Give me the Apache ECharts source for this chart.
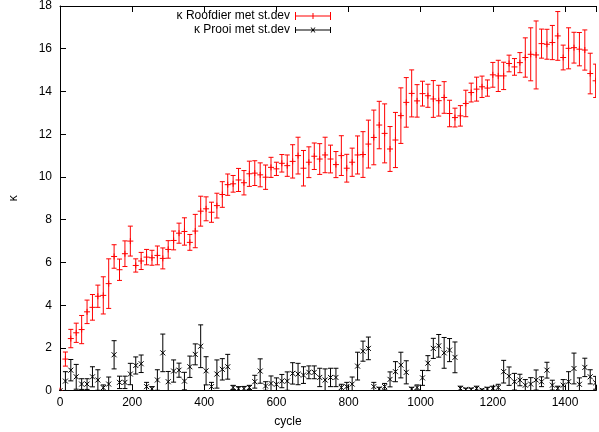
<!DOCTYPE html>
<html>
<head>
<meta charset="utf-8">
<script src="https://cdn.jsdelivr.net/npm/echarts@6/dist/echarts.min.js"></script>
<style>
  html, body { margin: 0; padding: 0; background: #fff; }
  #main { width: 599px; height: 432px; }
</style>
</head>
<body>
<div id="main"></div>
<script>
// cycles (x)
var cycles = [0, 15, 30, 45, 60, 75, 90, 105, 120, 135, 150, 165, 180, 195, 210, 225, 240, 255, 270, 285,
  300, 315, 330, 345, 360, 375, 390, 405, 420, 435, 450, 465, 480, 495, 510, 525, 540, 555, 570, 585,
  600, 615, 630, 645, 660, 675, 690, 705, 720, 735, 750, 765, 780, 795, 810, 825, 840, 855, 870, 885,
  900, 915, 930, 945, 960, 975, 990, 1005, 1020, 1035, 1050, 1065, 1080, 1095, 1110, 1125, 1140, 1155, 1170, 1185,
  1200, 1215, 1230, 1245, 1260, 1275, 1290, 1305, 1320, 1335, 1350, 1365, 1380, 1395, 1410, 1425, 1440, 1455, 1470, 1485];

// kappa roofdier (predator) + st.dev
var roofdier = [0, 1.48, 2.44, 2.71, 2.86, 3.69, 3.9, 4.42, 4.46, 5.01, 6.28, 5.66, 6.41, 7.0, 5.86, 6.07, 6.25, 6.22, 6.33, 6.19,
  6.61, 7.03, 7.37, 7.45, 6.94, 7.47, 8.4, 8.51, 8.35, 8.66, 9.18, 9.64, 9.68, 9.86, 9.73, 10.15, 10.18, 10.1, 9.99, 10.45,
  10.38, 10.64, 10.53, 10.73, 11.0, 10.41, 10.69, 10.97, 10.84, 11.03, 10.84, 10.58, 11.0, 10.41, 10.69, 11.03, 11.05, 11.54, 11.85, 12.43,
  12.04, 11.31, 11.73, 12.87, 13.49, 13.91, 13.56, 13.9, 13.8, 13.65, 13.57, 13.72, 12.97, 12.78, 12.86, 13.44, 13.95, 14.11, 14.22, 14.16,
  14.78, 14.73, 14.73, 15.31, 15.15, 15.35, 15.59, 15.74, 15.71, 16.24, 16.21, 16.29, 16.6, 15.59, 16.02, 16.05, 15.98, 15.94, 14.84, 14.5];
var roofdierDev = [0, 0.33, 0.43, 0.45, 0.66, 0.55, 0.6, 0.52, 0.87, 1.16, 0.55, 0.5, 0.6, 0.7, 0.31, 0.4, 0.36, 0.35, 0.44, 0.49,
  0.41, 0.44, 0.47, 0.64, 0.37, 0.78, 0.7, 0.56, 0.47, 0.58, 0.6, 0.5, 0.39, 0.54, 0.57, 0.59, 0.58, 0.56, 0.57, 0.47,
  0.31, 0.41, 0.5, 0.78, 0.86, 0.83, 0.72, 0.62, 0.72, 0.83, 0.65, 0.61, 0.93, 0.65, 0.66, 0.89, 1.07, 1.12, 1.28, 1.11,
  1.38, 1.05, 1.29, 1.3, 1.16, 1.1, 0.76, 0.58, 0.54, 0.86, 0.72, 0.74, 0.62, 0.44, 0.48, 0.62, 0.44, 0.56, 0.5, 0.38,
  0.58, 0.73, 0.64, 0.39, 0.39, 0.47, 0.92, 1.24, 1.59, 0.68, 0.7, 0.8, 1.14, 0.58, 0.96, 0.72, 0.78, 0.94, 0.95, 0.78];

// kappa prooi (prey) + st.dev
var prooi = [0, 0.45, 0.96, 0.65, 0.31, 0.31, 0.65, 0.5, 0.14, 0.31, 1.68, 0.39, 0.39, 0.78, 1.18, 1.26, 0.19, 0.09, 0.5, 1.77,
  0.42, 0.92, 0.96, 0.45, 1.12, 1.7, 2.08, 0.93, 0.19, 0.78, 1.0, 1.12, 0.15, 0.09, 0.1, 0.15, 0.42, 0.92, 0.22, 0.34,
  0.3, 0.45, 0.45, 0.81, 0.78, 0.73, 0.86, 0.86, 0.62, 0.5, 0.62, 0.62, 0.15, 0.19, 0.31, 1.15, 1.85, 1.98, 0.19, 0.08,
  0.19, 0.53, 0.89, 1.2, 0.86, 0.08, 0.15, 0.6, 1.29, 1.98, 2.1, 1.77, 1.9, 1.56, 0.11, 0.06, 0.06, 0.11, 0.03, 0.08,
  0.11, 0.15, 0.89, 0.68, 0.42, 0.5, 0.26, 0.31, 0.5, 0.42, 0.96, 0.26, 0.11, 0.26, 0.42, 1.04, 0.3, 1.09, 0.65, 0.37];
var prooiDev = [0, 0.44, 0.5, 0.58, 0.25, 0.25, 0.47, 0.48, 0.13, 0.33, 0.66, 0.29, 0.29, 0.5, 0.4, 0.41, 0.2, 0.1, 0.48, 0.88,
  0.48, 0.52, 0.33, 0.41, 0.5, 0.49, 1.0, 0.66, 0.2, 0.66, 0.5, 0.58, 0.1, 0.1, 0.1, 0.1, 0.3, 0.57, 0.2, 0.35,
  0.3, 0.31, 0.43, 0.5, 0.5, 0.39, 0.3, 0.3, 0.43, 0.52, 0.43, 0.43, 0.15, 0.2, 0.33, 0.65, 0.47, 0.53, 0.2, 0.08,
  0.15, 0.35, 0.47, 0.6, 0.54, 0.08, 0.12, 0.35, 0.35, 0.47, 0.53, 0.72, 0.54, 0.72, 0.1, 0.06, 0.06, 0.1, 0.05, 0.08,
  0.1, 0.15, 0.53, 0.43, 0.39, 0.27, 0.26, 0.3, 0.47, 0.23, 0.37, 0.23, 0.1, 0.26, 0.47, 0.72, 0.3, 0.43, 0.33, 0.3];

var FONT = 'Liberation Sans, Arial, Helvetica, sans-serif';

function toData(vals, devs) {
  return cycles.map(function (c, i) { return [c, vals[i], devs[i]]; });
}

// errorbar + point symbol (gnuplot style)
function errorBars(color, mark) {
  return function (params, api) {
    var x = api.value(0), v = api.value(1), e = api.value(2);
    var p = api.coord([x, v]);
    var hi = api.coord([x, v + e]);
    var lo = api.coord([x, v - e]);
    var cap = 2.5, m = 3;
    var st = { stroke: color, lineWidth: 1 };
    var kids = [
      { type: 'line', shape: { x1: p[0], y1: hi[1], x2: p[0], y2: lo[1] }, style: st },
      { type: 'line', shape: { x1: p[0] - cap, y1: hi[1], x2: p[0] + cap, y2: hi[1] }, style: st },
      { type: 'line', shape: { x1: p[0] - cap, y1: lo[1], x2: p[0] + cap, y2: lo[1] }, style: st }
    ];
    if (mark === 'plus') {
      kids.push({ type: 'line', shape: { x1: p[0] - m, y1: p[1], x2: p[0] + m, y2: p[1] }, style: st });
      kids.push({ type: 'line', shape: { x1: p[0], y1: p[1] - m, x2: p[0], y2: p[1] + m }, style: st });
    } else {
      m = 2.5;
      kids.push({ type: 'line', shape: { x1: p[0] - m, y1: p[1] - m, x2: p[0] + m, y2: p[1] + m }, style: st });
      kids.push({ type: 'line', shape: { x1: p[0] - m, y1: p[1] + m, x2: p[0] + m, y2: p[1] - m }, style: st });
    }
    return { type: 'group', children: kids };
  };
}

var iconPlus = 'path://M0,0h1v8h-1z M0,3.5h36v1h-36z M35,0h1v8h-1z M17.5,1h1v6h-1z';
var iconCross = 'path://M0,1h1v6h-1z M0,3.5h36v1h-36z M35,1h1v6h-1z M15.5,1.5L16.5,1.5L20.5,6.5L19.5,6.5z M19.5,1.5L20.5,1.5L16.5,6.5L15.5,6.5z';

var chart = echarts.init(document.getElementById('main'));
var option = {
  animation: false,
  backgroundColor: '#fff',
  textStyle: { fontFamily: FONT },
  grid: { left: 56.7, right: 0, top: 5, bottom: 41.3 },
  legend: {
    orient: 'vertical',
    right: 268,
    top: 9,
    align: 'right',
    padding: 0,
    itemGap: 0,
    itemWidth: 36,
    itemHeight: 8,
    textStyle: { fontSize: 12, color: '#000', fontFamily: FONT, lineHeight: 14 },
    data: [
      { name: 'κ Roofdier met st.dev', icon: iconPlus },
      { name: 'κ Prooi met st.dev', icon: iconCross }
    ]
  },
  graphic: [
    {
      type: 'text', x: 288, y: 422,
      style: { text: 'cycle', font: '12px ' + FONT, fill: '#000', align: 'center', verticalAlign: 'middle' }
    }
  ],
  xAxis: [
    {
      type: 'value', min: 0, max: 1486, interval: 200,
      axisLine: { lineStyle: { color: '#000' } },
      axisTick: { inside: true, length: 6, lineStyle: { color: '#000' } },
      axisLabel: {
        margin: 6, fontSize: 12, color: '#000', fontFamily: FONT,
        formatter: function (v) { return (v % 200 === 0) ? String(v) : ''; }
      },
      splitLine: { show: false }
    },
    {
      type: 'value', position: 'top', min: 0, max: 1486, interval: 200,
      axisLine: { lineStyle: { color: '#000' } },
      axisTick: { inside: true, length: 6, lineStyle: { color: '#000' } },
      axisLabel: { show: false },
      splitLine: { show: false }
    }
  ],
  yAxis: {
    type: 'value', min: 0, max: 18, interval: 2,
    name: 'κ', nameLocation: 'middle', nameGap: 40, nameRotate: 90,
    nameTextStyle: { fontSize: 12, color: '#000', fontFamily: FONT },
    axisLine: { lineStyle: { color: '#000' } },
    axisTick: { inside: true, length: 6, lineStyle: { color: '#000' } },
    axisLabel: { margin: 8, fontSize: 12, color: '#000', fontFamily: FONT },
    splitLine: { show: false }
  },
  series: [
    {
      name: 'κ Roofdier met st.dev',
      type: 'custom',
      clip: true,
      itemStyle: { color: '#ff0000' },
      renderItem: errorBars('#ff0000', 'plus'),
      encode: { x: 0, y: 1 },
      data: toData(roofdier, roofdierDev)
    },
    {
      name: 'κ Prooi met st.dev',
      type: 'custom',
      clip: true,
      itemStyle: { color: '#000000' },
      renderItem: errorBars('#000000', 'cross'),
      encode: { x: 0, y: 1 },
      data: toData(prooi, prooiDev)
    }
  ]
};
chart.setOption(option);
</script>
</body>
</html>
